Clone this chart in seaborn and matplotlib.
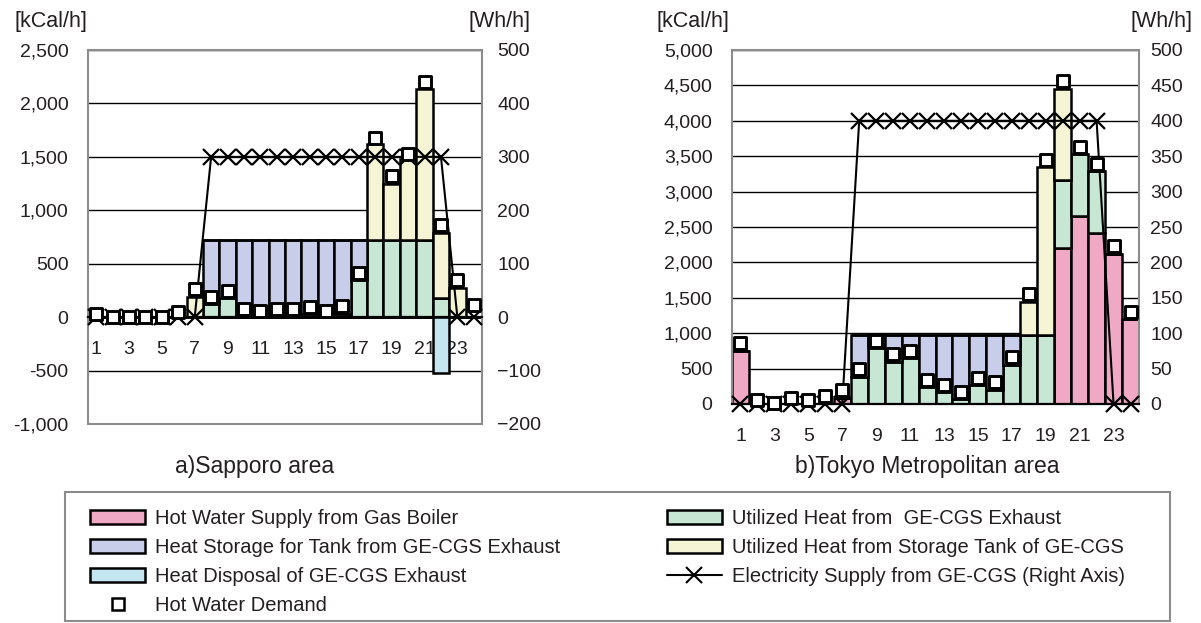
import matplotlib
matplotlib.use("Agg")
import matplotlib.pyplot as plt
from matplotlib.patches import Patch, Rectangle
from matplotlib.lines import Line2D
from matplotlib.ticker import FuncFormatter
import seaborn as sns
import numpy as np

# ---- data ----
hours = [str(h) for h in range(1, 25)]
tick_labels = ["1", "3", "5", "7", "9", "11", "13", "15", "17", "19", "21", "23"]

# a) Sapporo  [kCal/h], electricity [Wh/h]
sap_boiler = [0, 0, 0, 0, 0, 0, 0, 0, 0, 0, 0, 0, 0, 0, 0, 0, 0, 0, 0, 0, 0, 0, 0, 0]
sap_exhaust = [0, 0, 0, 0, 0, 0, 0, 120, 175, 15, 5, 10, 10, 25, 5, 30, 345, 720, 720, 720, 720, 180, 0, 0]
sap_storage = [0, 0, 0, 0, 0, 0, 0, 600, 545, 705, 715, 710, 710, 695, 715, 690, 375, 0, 0, 0, 0, 0, 0, 0]
sap_tank = [0, 0, 0, 0, 0, 0, 190, 0, 0, 0, 0, 0, 0, 0, 0, 0, 0, 900, 530, 760, 1415, 610, 275, 0]
sap_disposal = [0, 0, 0, 0, 0, 0, 0, 0, 0, 0, 0, 0, 0, 0, 0, 0, 0, 0, 0, 0, 0, -520, 0, 0]
sap_elec = [0, 0, 0, 0, 0, 0, 0, 300, 300, 300, 300, 300, 300, 300, 300, 300, 300, 300, 300, 300, 300, 300, 0, 0]
sap_demand = [30, 5, 5, 5, 5, 50, 260, 190, 245, 75, 62, 72, 75, 94, 62, 100, 410, 1680, 1320, 1530, 2200, 860, 345, 115]

# b) Tokyo Metropolitan
tok_boiler = [755, 0, 0, 0, 0, 0, 90, 0, 0, 0, 0, 0, 0, 0, 0, 0, 0, 0, 0, 2209, 2655, 2420, 2125, 1196]
tok_exhaust = [0, 0, 0, 0, 0, 0, 0, 385, 788, 591, 647, 234, 169, 70, 263, 202, 553, 970, 970, 957, 877, 868, 0, 0]
tok_storage = [0, 0, 0, 0, 0, 0, 0, 595, 192, 389, 333, 746, 811, 910, 717, 778, 427, 0, 0, 0, 0, 0, 0, 0]
tok_tank = [0, 0, 0, 0, 0, 0, 0, 0, 0, 0, 0, 0, 0, 0, 0, 0, 0, 475, 2374, 1290, 0, 0, 0, 0]
tok_disposal = [0, 0, 0, 0, 0, 0, 0, 0, 0, 0, 0, 0, 0, 0, 0, 0, 0, 0, 0, 0, 0, 0, 0, 0]
tok_elec = [0, 0, 0, 0, 0, 0, 0, 400, 400, 400, 400, 400, 400, 400, 400, 400, 400, 400, 400, 400, 400, 400, 0, 0]
tok_demand = [858, 50, 12, 78, 55, 118, 200, 494, 896, 708, 755, 342, 272, 169, 366, 305, 657, 1552, 3452, 4563, 3635, 3391, 2228, 1304]

# colours
C_BOILER = "#F0A9C5"
C_EXHAUST = "#C7E6D3"
C_STORAGE = "#C8CDE9"
C_TANK = "#F5F5D6"
C_DISPOSAL = "#C5E5F1"
BOX = "#8c8c8c"
INK = "#231f20"

sns.set_style("white")
plt.rcParams["font.family"] = ["Liberation Sans", "DejaVu Sans"]

W, H = 1201, 623
fig = plt.figure(figsize=(W / 100, H / 100), dpi=100)


def px_axes(x0, y0, x1, y1):
    return fig.add_axes([x0 / W, 1 - y1 / H, (x1 - x0) / W, (y1 - y0) / H])


def bars(ax, values, bottom, color):
    sns.barplot(x=hours, y=values, bottom=bottom, color=color, saturation=1,
                width=1.0, errorbar=None, edgecolor="black", linewidth=1.8,
                zorder=2, ax=ax)


def draw_panel(ax, boiler, exhaust, storage, tank, disposal, elec, demand,
               ylim, ystep, rlim, rstep, rpad):
    boiler = np.array(boiler)
    exhaust = np.array(exhaust)
    storage = np.array(storage)
    tank = np.array(tank)
    disposal = np.array(disposal)

    ax2 = ax.twinx()
    ax2.set_ylim(*rlim)
    ax2.set_yticks(np.arange(rlim[0], rlim[1] + 1, rstep))

    bars(ax, boiler, 0, C_BOILER)
    bars(ax, exhaust, boiler, C_EXHAUST)
    bars(ax, storage, boiler + exhaust, C_STORAGE)
    bars(ax, tank, boiler + exhaust + storage, C_TANK)
    if disposal.any():
        bars(ax, disposal, 0, C_DISPOSAL)

    x = np.arange(len(hours))
    # electricity line is measured on the right axis
    ax.plot(x, elec, color="black", lw=1.5, marker="x", markersize=12,
            markeredgewidth=1.6, transform=ax2.transData, zorder=4, clip_on=False)
    sns.scatterplot(x=x, y=demand, marker="s", s=85, color="white",
                    edgecolor="black", linewidth=2.1, zorder=5, ax=ax,
                    clip_on=False, legend=False)

    ax.set_ylim(*ylim)
    ax.set_xlim(-0.5, 23.5)
    ax.set_yticks(np.arange(ylim[0], ylim[1] + 1, ystep))
    ax.yaxis.set_major_formatter(FuncFormatter(lambda v, p: f"{v:,.0f}"))
    ax.set_xticks(np.arange(0, 24, 2))
    ax.set_xticklabels(tick_labels)
    ax.set_xlabel("")
    ax.set_ylabel("")
    ax.yaxis.grid(True, color="black", lw=1.0)
    ax.xaxis.grid(False)
    ax.set_axisbelow(True)

    for s in ax.spines.values():
        s.set_color(BOX)
        s.set_linewidth(1.5)
    for s in ax2.spines.values():
        s.set_visible(False)
    ax.spines["bottom"].set_color("black")
    ax.spines["bottom"].set_linewidth(1.6)
    ax.spines["bottom"].set_zorder(3)

    ax.tick_params(axis="y", length=0, labelsize=14, pad=14, colors=INK)
    ax.tick_params(axis="x", length=0, labelsize=14, pad=17, colors=INK)
    ax2.tick_params(axis="y", length=0, labelsize=14, pad=rpad, colors=INK)
    return ax2


# a) Sapporo
ax_a = px_axes(88, 50, 482, 424)
draw_panel(ax_a, sap_boiler, sap_exhaust, sap_storage, sap_tank, sap_disposal,
           sap_elec, sap_demand, (-1000, 2500), 500, (-200, 500), 100, 11)
ax_a.spines["bottom"].set_position(("data", 0))
ax_a.axhline(-1000, color=BOX, lw=1.5, clip_on=False, zorder=3)

# b) Tokyo
ax_b = px_axes(732, 50, 1139, 404)
draw_panel(ax_b, tok_boiler, tok_exhaust, tok_storage, tok_tank, tok_disposal,
           tok_elec, tok_demand, (0, 5000), 500, (0, 500), 50, 8)

# unit labels and panel titles
txt = dict(fontsize=15.5, color=INK, va="center")
fig.text(14 / W, 1 - 22 / H, "[kCal/h]", ha="left", **txt)
fig.text(531 / W, 1 - 22 / H, "[Wh/h]", ha="right", **txt)
fig.text(656 / W, 1 - 22 / H, "[kCal/h]", ha="left", **txt)
fig.text(1192 / W, 1 - 22 / H, "[Wh/h]", ha="right", **txt)
fig.text(255 / W, 1 - 467 / H, "a)Sapporo area", ha="center", va="center",
         fontsize=16.5, color=INK)
fig.text(927 / W, 1 - 467 / H, "b)Tokyo Metropolitan area", ha="center",
         va="center", fontsize=16.5, color=INK)

# legend box
fig.add_artist(Rectangle((65 / W, 1 - 621 / H), (1170 - 65) / W, (621 - 492) / H,
                         transform=fig.transFigure, fill=False,
                         edgecolor=BOX, linewidth=1.5))

ek = dict(edgecolor="black", linewidth=1.8)
handles = [
    Patch(facecolor=C_BOILER, **ek),
    Patch(facecolor=C_STORAGE, **ek),
    Patch(facecolor=C_DISPOSAL, **ek),
    Line2D([], [], ls="none", marker="s", markersize=8, markerfacecolor="white",
           markeredgecolor="black", markeredgewidth=1.8),
    Patch(facecolor=C_EXHAUST, **ek),
    Patch(facecolor=C_TANK, **ek),
    Line2D([], [], color="black", lw=1.5, marker="x", markersize=11,
           markeredgewidth=1.5),
]
labels = [
    "Hot Water Supply from Gas Boiler",
    "Heat Storage for Tank from GE-CGS Exhaust",
    "Heat Disposal of GE-CGS Exhaust",
    "Hot Water Demand",
    "Utilized Heat from  GE-CGS Exhaust",
    "Utilized Heat from Storage Tank of GE-CGS",
    "Electricity Supply from GE-CGS (Right Axis)",
]
leg = fig.legend(handles, labels, loc="upper left",
                 bbox_to_anchor=(90 / W, 1 - 509 / H, (1125 - 90) / W, 0),
                 mode="expand", ncol=2, fontsize=14.5, frameon=False,
                 handlelength=2.75, handleheight=0.7, handletextpad=0.5,
                 labelspacing=0.5, borderpad=0, borderaxespad=0)
for t in leg.get_texts():
    t.set_color(INK)

fig.savefig("out.png", dpi=100)
